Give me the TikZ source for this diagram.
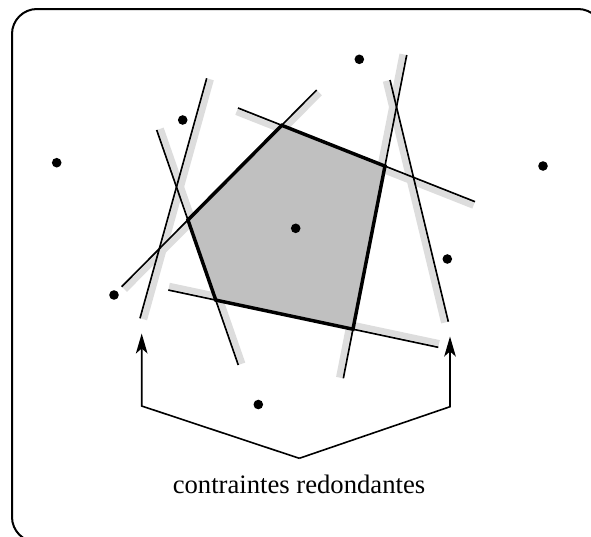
\documentclass[tikz,border=0pt]{standalone}
\usepackage{fontspec}
\setmainfont{Liberation Serif}
\usetikzlibrary{calc,arrows.meta}
\definecolor{bandgray}{HTML}{DDDDDD}
\definecolor{polygray}{HTML}{C0C0C0}
\tikzset{
  band/.style={draw=bandgray, line width=4.6pt, line cap=butt},
  cline/.style={draw=black, line width=1.25pt, line cap=butt},
  polyedge/.style={draw=black, line width=2.6pt, line join=miter},
  pt/.style={fill=black},
  frame/.style={draw=black, line width=1.5pt, rounded corners=18.75pt},
  arr/.style={draw=black, line width=1.2pt, -{Stealth[length=15pt,width=8.7pt,inset=3.8pt]}},
  lbl/.style={font=\fontsize{20}{24}\selectfont, anchor=base}
}
\begin{document}
\begin{tikzpicture}[x=0.75pt,y=-0.75pt]
\useasboundingbox (0,0) rectangle (591,536);
\clip (0,0) rectangle (591,536);
\draw[frame] (12,9) rectangle (603,542);
% constraint lines: end points
\coordinate (p1) at (121.7,286.7); \coordinate (q1) at (316.7,90);
\coordinate (p2) at (238,108);     \coordinate (q2) at (475,201.7);
\coordinate (p3) at (406.7,55);    \coordinate (q3) at (343.3,378.3);
\coordinate (p4) at (168.3,290);   \coordinate (q4) at (438.3,347.3);
\coordinate (p5) at (156.7,130);   \coordinate (q5) at (238.3,365);
\coordinate (p6) at (206.7,78.3);  \coordinate (q6) at (140,318.3);
\coordinate (p7) at (390,80);      \coordinate (q7) at (448.3,321.7);
% polygon vertices
\coordinate (A) at (intersection of p1--q1 and p2--q2);
\coordinate (B) at (intersection of p2--q2 and p3--q3);
\coordinate (C) at (intersection of p3--q3 and p4--q4);
\coordinate (D) at (intersection of p4--q4 and p5--q5);
\coordinate (E) at (intersection of p5--q5 and p1--q1);
% gray bands (feasible side)
\draw[band] ($(p1)+(3.05,3.03)$) -- ($(q1)+(3.05,3.03)$);
\draw[band] ($(p2)+(-1.58,4.0)$) -- ($(q2)+(-1.58,4.0)$);
\draw[band] ($(p3)+(-4.22,-0.83)$) -- ($(q3)+(-4.22,-0.83)$);
\draw[band] ($(p4)+(0.89,-4.2)$) -- ($(q4)+(0.89,-4.2)$);
\draw[band] ($(p5)+(4.06,-1.41)$) -- ($(q5)+(4.06,-1.41)$);
\draw[band] ($(p6)+(4.14,1.15)$) -- ($(q6)+(4.14,1.15)$);
\draw[band] ($(p7)+(-4.18,1.01)$) -- ($(q7)+(-4.18,1.01)$);
% feasible polygon fill
\fill[polygray] (A) -- (B) -- (C) -- (D) -- (E) -- cycle;
% thin constraint lines
\draw[cline] (p1) -- (q1);
\draw[cline] (p2) -- (q2);
\draw[cline] (p3) -- (q3);
\draw[cline] (p4) -- (q4);
\draw[cline] (p5) -- (q5);
\draw[cline] (p6) -- (q6);
\draw[cline] (p7) -- (q7);
% thick outline
\draw[polyedge] (A) -- (B) -- (C) -- (D) -- (E) -- cycle;
% points
\foreach \x/\y in {359.3/59.3, 182.7/120, 56.7/162.7, 543/166, 295.7/228.3, 447.3/259, 114/295, 258.3/404.5}
  \fill[pt] (\x,\y) circle[radius=3.6pt];
% label and arrows
\node[lbl] (t) at (299,493) {contraintes redondantes};
\coordinate (la) at (141.7,406);
\coordinate (lt) at (141.7,333.5);
\coordinate (v) at (299.3,458.3);
\coordinate (ra) at (450,406.7);
\coordinate (rt) at (450,336.5);
\draw[arr] (v) -- (la) -- (lt);
\draw[arr] (v) -- (ra) -- (rt);
\end{tikzpicture}
\end{document}
